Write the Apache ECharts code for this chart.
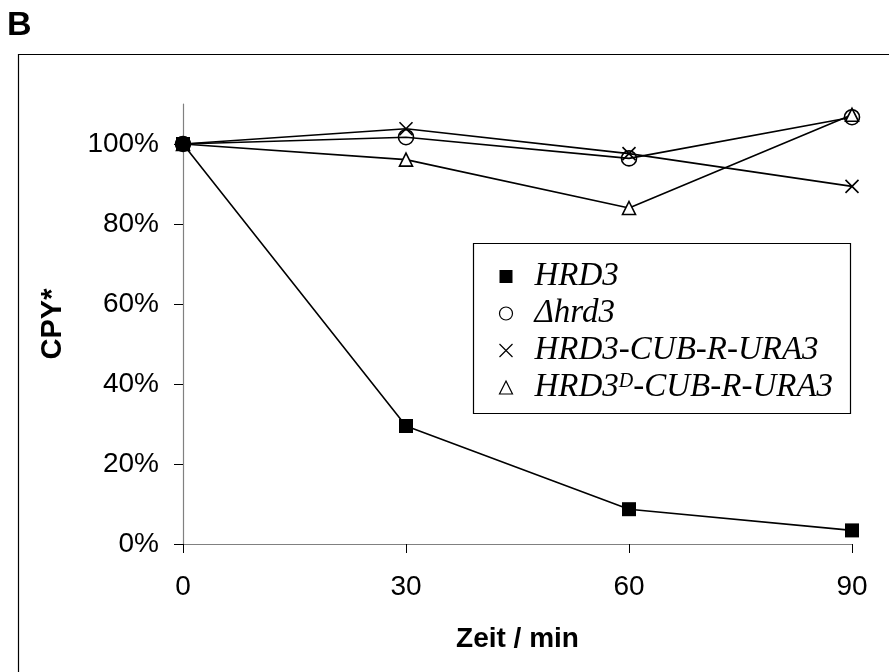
<!DOCTYPE html>
<html>
<head>
<meta charset="utf-8">
<script src="https://cdn.jsdelivr.net/npm/echarts@6/dist/echarts.min.js"></script>
<style>
  html, body { margin: 0; padding: 0; background: #fff; }
  #main { width: 889px; height: 672px; }
</style>
</head>
<body>
<div id="main"></div>
<script>
// Zeitpunkte (min) und CPY* Werte (%)
var zeit = [0, 30, 60, 90];
var hrd3 = [100, 29.5, 8.7, 3.4];
var deltaHrd3 = [100, 101.7, 96.4, 106.7];
var hrd3Cub = [100, 103.8, 97.6, 89.4];
var hrd3DCub = [100, 96.1, 84, 107.3];
var yTicks = [0, 20, 40, 60, 80, 100];
var xTicks = [0, 30, 60, 90];

var names = ['HRD3', 'Δhrd3', 'HRD3-CUB-R-URA3', 'HRD3D-CUB-R-URA3'];

function pairs(arr) {
  return arr.map(function (v, i) { return [zeit[i], v]; });
}

var crossPath = 'path://M0,0L10,10M10,0L0,10';
var lineStyle = { color: '#000', width: 1.6 };

var chart = echarts.init(document.getElementById('main'), null, { renderer: 'canvas' });

var option = {
  animation: false,
  backgroundColor: '#fff',
  graphic: [
    { type: 'text', left: 7, top: 9, style: { text: 'B', font: 'bold 34px "Liberation Sans"', fill: '#000' } },
    { type: 'rect', shape: { x: 18.5, y: 54.5, width: 900, height: 700 }, style: { fill: 'none', stroke: '#000', lineWidth: 1.2 }, z: -1 },
    { type: 'rect', shape: { x: 473.5, y: 243.5, width: 377, height: 170 }, style: { fill: '#fff', stroke: '#000', lineWidth: 1.2 }, z: 5 }
  ],
  grid: { left: 183, right: 37, top: 104, bottom: 128 },
  legend: {
    orient: 'vertical',
    left: 492,
    top: 255,
    itemGap: 4,
    itemWidth: 13,
    itemHeight: 13,
    z: 10,
    data: [
      { name: names[0], icon: 'rect', itemStyle: { color: '#000', borderWidth: 0 } },
      { name: names[1], icon: 'circle', itemStyle: { color: '#fff', borderColor: '#000', borderWidth: 1.2 } },
      { name: names[2], icon: crossPath, itemStyle: { color: 'none', borderColor: '#000', borderWidth: 1.2 } },
      { name: names[3], icon: 'triangle', itemStyle: { color: '#fff', borderColor: '#000', borderWidth: 1.2 } }
    ],
    formatter: function (n) {
      if (n === names[3]) return '{i|HRD3}{s|D}{i|-CUB-R-URA3}';
      return '{i|' + n + '}';
    },
    textStyle: {
      padding: [0, 0, 0, 17],
      rich: {
        i: { fontFamily: 'Liberation Serif', fontStyle: 'italic', fontSize: 33, color: '#000', lineHeight: 32 },
        s: { fontFamily: 'Liberation Serif', fontStyle: 'italic', fontSize: 20, color: '#000', lineHeight: 32, verticalAlign: 'top', padding: [0, 0, 14, 0] }
      }
    }
  },
  xAxis: {
    type: 'value',
    min: 0,
    max: 90,
    interval: 30,
    name: 'Zeit / min',
    nameLocation: 'middle',
    nameGap: 81,
    nameTextStyle: { fontFamily: 'Liberation Sans', fontWeight: 'bold', fontSize: 28, color: '#000' },
    axisLine: { lineStyle: { color: '#808080', width: 1.2 } },
    axisTick: { show: true, length: 9, inside: false, lineStyle: { color: '#000' }, customValues: xTicks },
    axisLabel: { customValues: xTicks, margin: 29, fontFamily: 'Liberation Sans', fontSize: 28, color: '#000' },
    splitLine: { show: false }
  },
  yAxis: {
    type: 'value',
    min: 0,
    max: 110,
    interval: 20,
    name: 'CPY*',
    nameLocation: 'middle',
    nameGap: 116,
    nameRotate: 90,
    nameTextStyle: { fontFamily: 'Liberation Sans', fontWeight: 'bold', fontSize: 29, color: '#000' },
    axisLine: { show: true, lineStyle: { color: '#808080', width: 1.2 } },
    axisTick: { show: true, length: 9, inside: false, lineStyle: { color: '#000' }, customValues: yTicks },
    axisLabel: {
      customValues: yTicks,
      margin: 24,
      fontFamily: 'Liberation Sans',
      fontSize: 28,
      color: '#000',
      formatter: function (v) { return v + '%'; }
    },
    splitLine: { show: false }
  },
  series: [
    {
      name: names[3], type: 'line', data: pairs(hrd3DCub),
      symbol: 'triangle', symbolSize: 13,
      itemStyle: { color: '#fff', borderColor: '#000', borderWidth: 1.6 },
      lineStyle: lineStyle
    },
    {
      name: names[2], type: 'line', data: pairs(hrd3Cub),
      symbol: crossPath, symbolSize: 13,
      itemStyle: { color: 'none', borderColor: '#000', borderWidth: 1.6 },
      lineStyle: lineStyle
    },
    {
      name: names[1], type: 'line', data: pairs(deltaHrd3),
      symbol: 'circle', symbolSize: 15,
      itemStyle: { color: 'rgba(0,0,0,0)', borderColor: '#000', borderWidth: 1.6 },
      lineStyle: lineStyle
    },
    {
      name: names[0], type: 'line', data: pairs(hrd3),
      symbol: 'rect', symbolSize: 14,
      itemStyle: { color: '#000', borderWidth: 0 },
      lineStyle: lineStyle
    }
  ]
};

chart.setOption(option);
</script>
</body>
</html>
